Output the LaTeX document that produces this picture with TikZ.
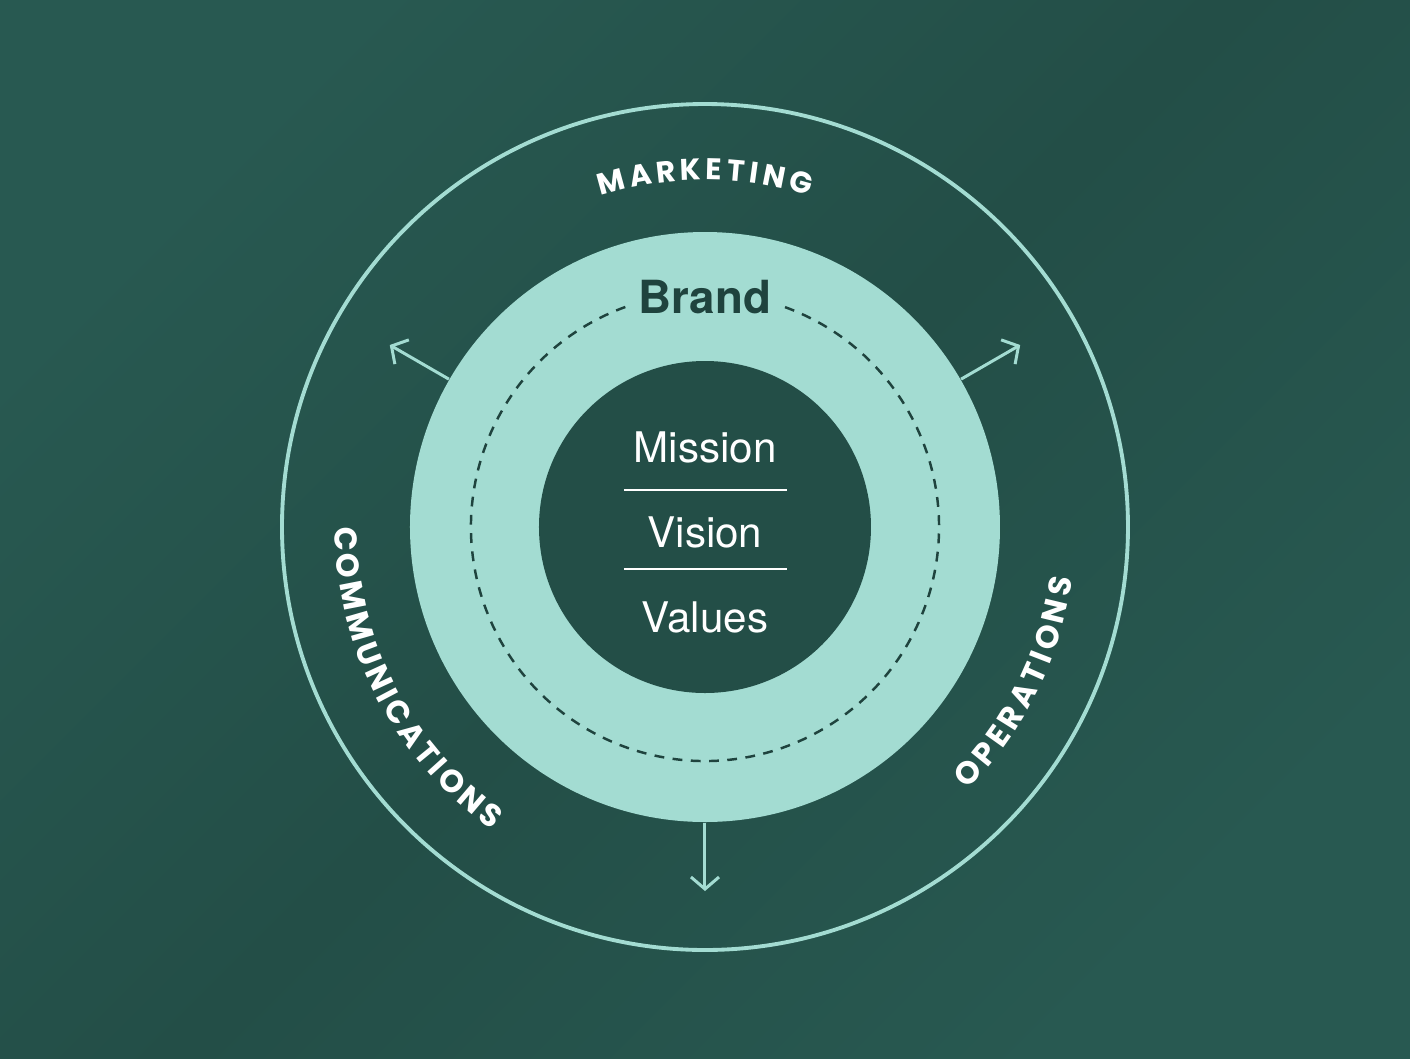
\documentclass[tikz,border=0pt]{standalone}
\usepackage{fontspec}
\setmainfont{TeX Gyre Heros}
\newfontfamily\capsfont{Poppins}
\usetikzlibrary{arrows.meta}
\usetikzlibrary{decorations.text}
\definecolor{bgdarkc}{HTML}{234E47}
\definecolor{bglightc}{HTML}{285951}
\definecolor{brandc}{HTML}{A3DCD2}
\definecolor{branddarkc}{HTML}{1F433E}

\tikzset{
  ringtext/.style 2 args={decorate,decoration={text along path,text color=white,
    text align=fit to path,
    text={|\capsfont\bfseries\fontsize{#1}{#1}\selectfont|#2}}},
  outarrow/.style={draw=brandc,line width=0.85pt,
    -{Straight Barb[length=1.2mm,width=2.8mm]}},
  corelabel/.style={anchor=base,text=white,font=\fontsize{12}{12}\selectfont},
}

\begin{document}
\begin{tikzpicture}[scale=1.0]
% background
\useasboundingbox (-7.05,-5.31) rectangle (7.05,5.27);
\shade[top color=bglightc,bottom color=bglightc,middle color=bgdarkc,shading angle=45]
(-7.05,-5.31) rectangle (7.05,5.27);

% rings
\node[circle,draw=brandc,line width=1.1pt,inner sep=0pt,minimum size=8.46cm]
(outer) at (0,0) {};
\node[circle,fill=brandc,inner sep=0pt,minimum size=5.9cm]
(brand) at (0,0) {};
\node[circle,fill=bgdarkc,inner sep=0pt,minimum size=3.32cm]
(core) at (0,0) {};
\draw[branddarkc,line width=0.7pt,dash pattern=on 2.8pt off 2.4pt]
(70:2.34) arc[start angle=70,end angle=-252,radius=2.34];

\node[text=branddarkc,font=\bfseries\fontsize{13}{13}\selectfont] (brandlbl) at (0,2.30) {Brand};

% mission / vision / values
\node[corelabel] (mission) at (0,0.65) {Mission};
\node[corelabel] (vision) at (0,-0.20) {Vision};
\node[corelabel] (values) at (0,-1.05) {Values};
\draw[white,line width=0.75pt] (-0.81,0.37) -- (0.82,0.37);
\draw[white,line width=0.75pt] (-0.81,-0.42) -- (0.82,-0.42);

% arrows out of the brand ring
\coordinate (tipleft) at (150:3.64);
\coordinate (tipright) at (30:3.64);
\coordinate (tipdown) at (270:3.64);
\draw[outarrow] (brand.150) -- (tipleft);
\draw[outarrow] (brand.30) -- (tipright);
\draw[outarrow] (brand.south) -- (tipdown);

% labels round the outer ring
\path[ringtext={8.5}{MARKETING}] (107.5:3.47) arc[start angle=107.5,end angle=72.5,radius=3.47];
\path[ringtext={9}{COMMUNICATIONS}] (180:3.70) arc[start angle=180,end angle=235,radius=3.70];
\path[ringtext={9}{OPERATIONS}] (-45:3.71) arc[start angle=-45,end angle=-8,radius=3.71];

\end{tikzpicture}
\end{document}
